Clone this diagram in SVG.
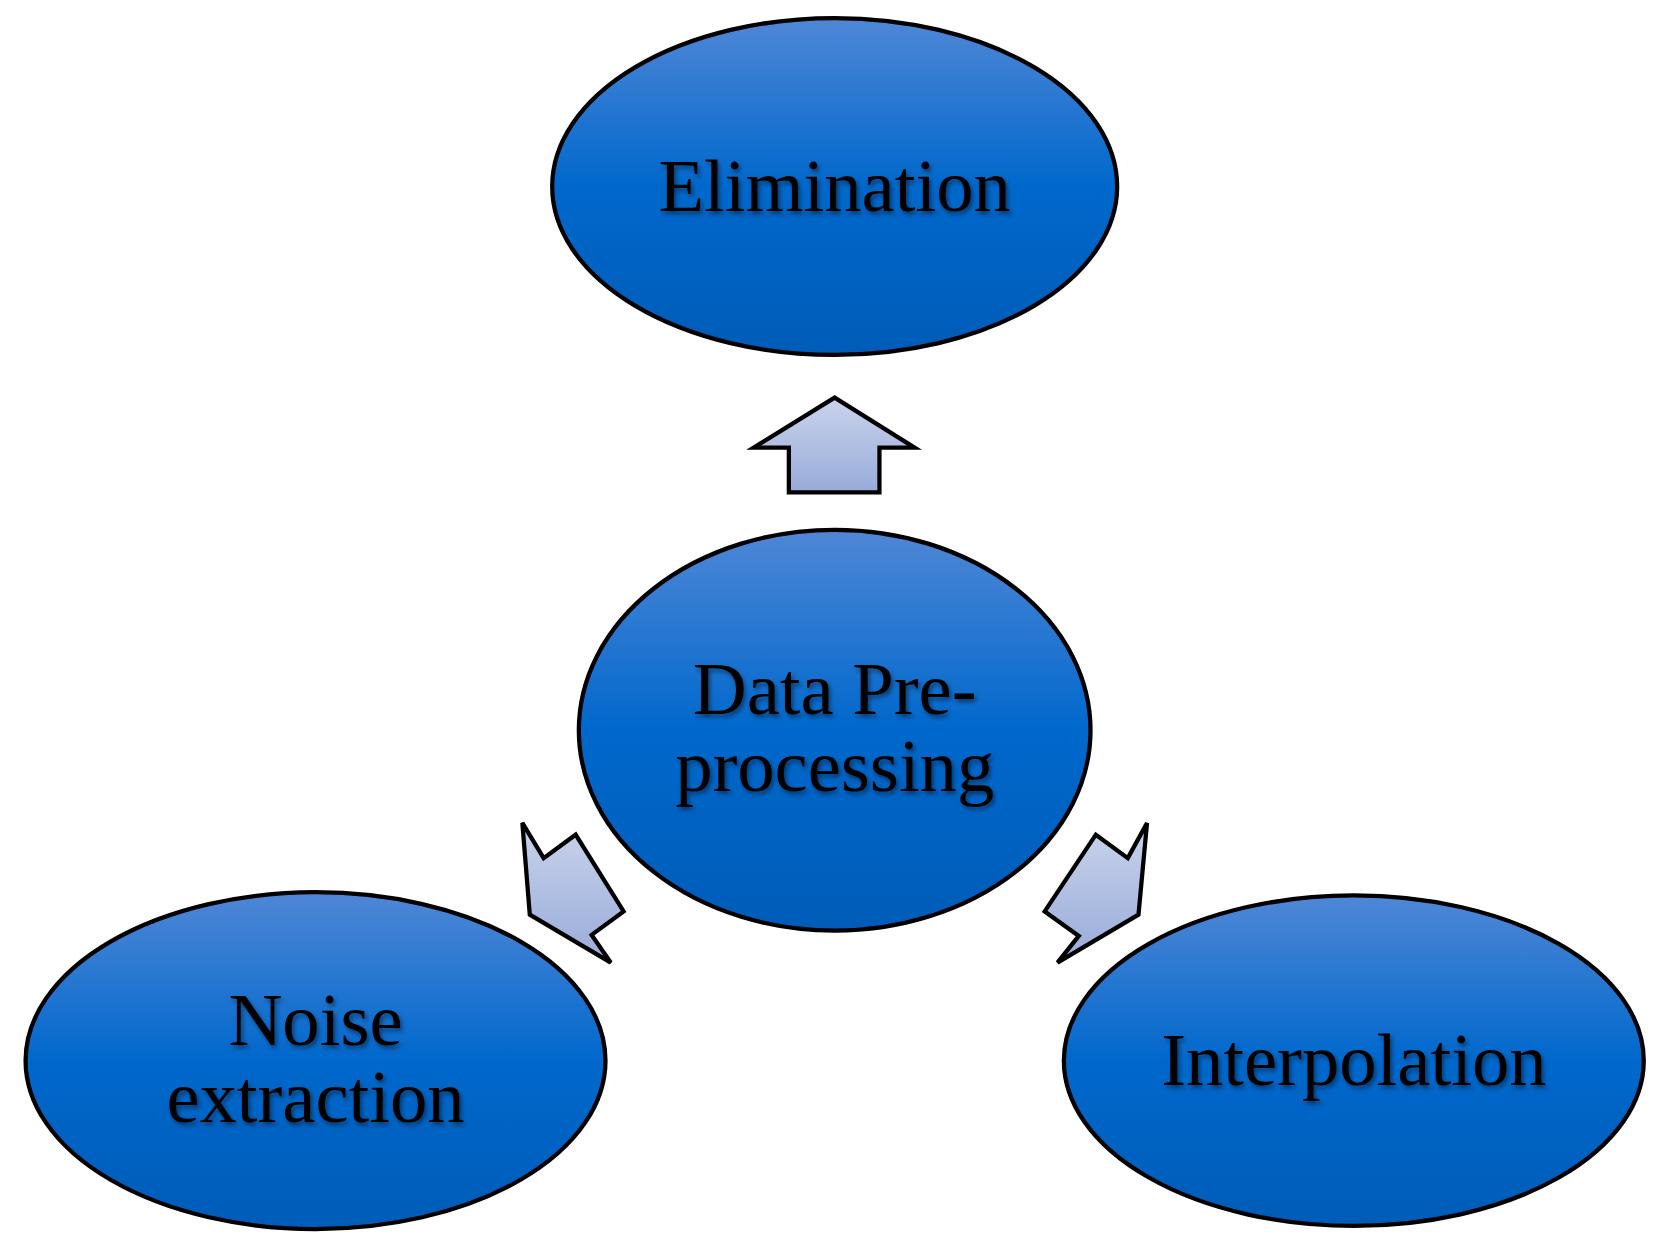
<svg xmlns="http://www.w3.org/2000/svg" width="1663" height="1256" viewBox="0 0 1663 1256">
<defs>
<linearGradient id="gb" x1="0" y1="0" x2="0" y2="1"><stop offset="0" stop-color="#4f87d6"/><stop offset="0.5" stop-color="#0068cc"/><stop offset="1" stop-color="#005cb8"/></linearGradient>
<linearGradient id="ga" x1="0" y1="0" x2="0" y2="1"><stop offset="0" stop-color="#c9d3ec"/><stop offset="1" stop-color="#98abd9"/></linearGradient>
<filter id="sh"><feDropShadow dx="2" dy="3" stdDeviation="2" flood-color="#000" flood-opacity="0.45"/></filter>
</defs>
<style>
.n{fill:url(#gb);stroke:#000;stroke-width:4}
.a{fill:url(#ga);stroke:#000;stroke-width:4;stroke-linejoin:miter}
.t{font-family:"Liberation Serif","Times New Roman",serif;font-size:70px;text-anchor:middle;fill:#000;filter:url(#sh)}
</style>
<rect width="1663" height="1256" fill="#fff"/>
<g transform="scale(1.066)">
<g id="connectors">
<polygon class="a" points="783,373 858,420 825,420 825,462 740,462 740,420 707,420"/>
<polygon class="a" points="490,772 510,805 540,783 585,855 555,877 573,903 497,858"/>
<polygon class="a" points="1076,772 1058,805 1028,783 980,855 1012,878 992,903 1068,858"/>
</g>
<g id="elimination"><ellipse class="n" cx="783" cy="175" rx="265" ry="158"/><text class="t" x="783" y="198">Elimination</text></g>
<g id="preprocessing"><ellipse class="n" cx="783" cy="685" rx="240" ry="188"/><text class="t" x="783" y="670">Data Pre-</text><text class="t" x="783" y="742">processing</text></g>
<g id="noise"><ellipse class="n" cx="296" cy="995" rx="272" ry="158"/><text class="t" x="296" y="980">Noise</text><text class="t" x="296" y="1053">extraction</text></g>
<g id="interpolation"><ellipse class="n" cx="1270" cy="995" rx="272" ry="155"/><text class="t" x="1270" y="1018">Interpolation</text></g>
</g>
</svg>
